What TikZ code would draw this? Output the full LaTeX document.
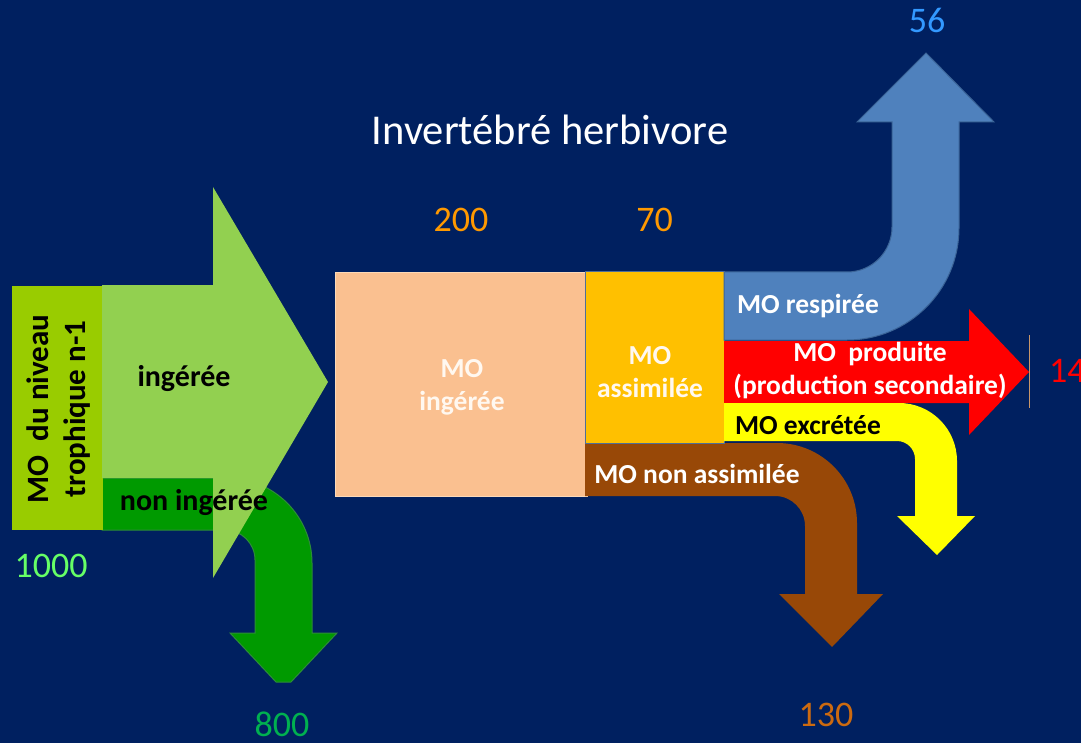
\documentclass[tikz,border=0pt]{standalone}
\usepackage{fontspec}
\setmainfont{Carlito}
\usetikzlibrary{positioning}
\definecolor{fond}{HTML}{002060}
\definecolor{vertclair}{HTML}{92D050}
\definecolor{vertfonce}{HTML}{009A00}
\definecolor{vertbord}{HTML}{2E8B3A}
\definecolor{olive}{HTML}{99CC00}
\definecolor{peche}{HTML}{FAC090}
\definecolor{pechebord}{HTML}{FCD9B8}
\definecolor{orange}{HTML}{FFC000}
\definecolor{orangebord}{HTML}{4F6E98}
\definecolor{bleu}{HTML}{4F81BD}
\definecolor{bleubord}{HTML}{3B6497}
\definecolor{rouge}{HTML}{FF0000}
\definecolor{jaune}{HTML}{FFFF00}
\definecolor{brun}{HTML}{984807}
\definecolor{nbbleu}{HTML}{3399FF}
\definecolor{nborange}{HTML}{FF9900}
\definecolor{nbvert}{HTML}{66FF66}
\definecolor{nbvertfonce}{HTML}{00B050}
\definecolor{nbbrun}{HTML}{CC6A10}
\definecolor{trait}{HTML}{C8966A}
\definecolor{texteboite}{HTML}{FFF8F0}

\begin{document}
\begin{tikzpicture}[x=1pt, y=-1pt,
    boite/.style={draw, line width=1pt, inner sep=0pt},
    lbl/.style={font=\fontsize{27.5}{33}\selectfont\bfseries, align=center, inner sep=0pt},
    lblvert/.style={lbl, font=\fontsize{30}{34}\selectfont\bfseries, text=black},
    lblboite/.style={font=\fontsize{27.5}{33}\selectfont\bfseries, align=center, inner sep=0pt, text=texteboite},
    nombre/.style={font=\fontsize{36}{40}\selectfont, inner sep=0pt}]
    \fill[fond] (0,0) rectangle (1081,743);
    \useasboundingbox (0,0) rectangle (1081,743);
    \filldraw[vertfonce, draw=vertbord, line width=1pt] (102,478) -- (227,478) .. controls (273.9,478) and (312,516.1) .. (312,563) -- (312,633) -- (337,633)
        -- (291,682) -- (276,682) -- (230,633) -- (255,633) -- (255,560) .. controls (255,543.4) and (241.6,530) .. (225,530) -- (102,530) -- cycle;
    \node[boite, fill=olive, draw=olive, minimum width=90pt, minimum height=243pt] (source) at (57,408) {};
    \node[lbl, font=\fontsize{31}{37}\selectfont\bfseries, rotate=90] (sourcetxt) at (59,409) {MO\ \ du niveau\\trophique n-1};
    \fill[vertclair] (102,285) -- (213,285) -- (213,187) -- (328,382) -- (213,578) -- (213,478) -- (102,478) -- cycle;
    \node[boite, fill=peche, draw=pechebord, minimum width=252pt, minimum height=224pt] (ingeree) at (461,384.5) {};
    \node[lblboite] (ingtxt) at (462,387) {MO\\ingérée};
    \fill[brun] (585,443) -- (777,443) .. controls (821.2,443) and (857,478.8) .. (857,523) -- (857,594) -- (883,594) -- (832,647)
        -- (779,594) -- (805,594) -- (805,526) .. controls (805,509.4) and (791.6,496) .. (775,496) -- (585,496) -- cycle;
    \node[boite, fill=orange, draw=orangebord, minimum width=139pt, minimum height=171pt] (assim) at (654.5,357.5) {};
    \node[lblboite] (assimtxt) at (650,372) {MO\\assimilée};
    \filldraw[bleu, draw=bleubord, line width=1pt] (724,272) -- (847,272) .. controls (871.9,272) and (892,251.9) .. (892,227) -- (892,122) -- (857,122) -- (926,53)
        -- (994,122) -- (959,122) -- (959,228) .. controls (959,289.9) and (908.9,340) .. (847,340) -- (724,340) -- cycle;
    \fill[rouge] (724,341) -- (969,341) -- (969,309) -- (1029,372) -- (969,435) -- (969,403) -- (724,403) -- cycle;
    \fill[jaune] (724,403) -- (899,403) .. controls (931,403) and (957,429) .. (957,461) -- (957,516) -- (975,516) -- (937,555)
        -- (897,516) -- (915,516) -- (915,459) .. controls (915,449.1) and (906.9,441) .. (897,441) -- (724,441) -- cycle;
    \draw[trait, line width=0.8pt] (1029,335) -- (1029,408);
    \node[lblvert] (ingeretxt) at (184,379) {ingérée};
    \node[lblvert] (noningtxt) at (194,503) {non ingérée};
    \node[lbl, text=white] (respi) at (808,306) {MO respirée};
    \node[lbl, text=white] (produite) at (870,371) {MO\ \ produite\\(production secondaire)};
    \node[lbl, text=black] (excrete) at (808,425) {MO excrétée};
    \node[lbl, text=white] (nonassim) at (697,474) {MO non assimilée};
    \node[font=\fontsize{42.5}{46}\selectfont, text=white] (titre) at (550,130) {Invertébré herbivore};
    \node[nombre, text=nborange, above=40pt of ingeree] (n200) {200};
    \node[nombre, text=nborange, above=40pt of assim] (n70) {70};
    \node[nombre, text=nbbleu] (n56) at (927,20) {56};
    \node[nombre, text=nbvert] (n1000) at (51,566) {1000};
    \node[nombre, text=nbvertfonce] (n800) at (282,724) {800};
    \node[nombre, text=nbbrun] (n130) at (826,715) {130};
    \node[nombre, text=rouge, anchor=west] (n14) at (1049,371) {14};
\end{tikzpicture}
\end{document}
